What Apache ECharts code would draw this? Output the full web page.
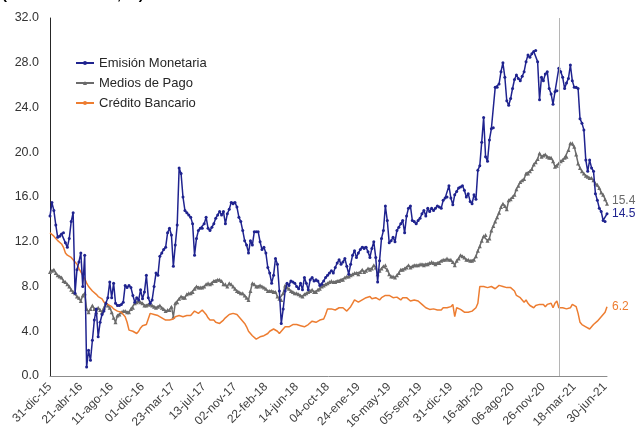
<!DOCTYPE html>
<html>
<head>
<meta charset="utf-8">
<script src="https://cdn.jsdelivr.net/npm/echarts@6/dist/echarts.min.js"></script>
<style>
html,body{margin:0;padding:0;background:#fff;}
#chart{width:638px;height:436px;}
</style>
</head>
<body>
<div id="chart"></div>
<script>
// Tick labels, one every 16 weekly observations
const tickLabels = ['31-dic-15','21-abr-16','11-ago-16','01-dic-16','23-mar-17','13-jul-17','02-nov-17','22-feb-18','14-jun-18','04-oct-18','24-ene-19','16-may-19','05-sep-19','31-dic-19','16-abr-20','06-ago-20','26-nov-20','18-mar-21','30-jun-21'];
const tickStep = 16;
const yTicks = [0, 4, 8, 12, 16, 20, 24, 28, 32];

const emisionMonetaria = [
14.3,15.5,14.8,13.5,12.4,12.5,12.7,12.8,11.9,11.5,
12.3,13.8,14.6,7.4,9.5,10.2,11.0,8.0,10.8,0.8,
2.3,1.4,3.2,5.0,6.0,3.5,4.8,5.5,5.8,6.5,
7.0,8.4,7.0,8.3,6.5,6.3,6.3,6.4,6.6,8.1,
7.9,8.1,7.9,7.2,6.6,7.0,6.8,7.7,6.9,7.5,
9.0,7.0,6.5,6.8,8.0,9.2,9.0,10.7,11.0,11.3,
11.5,12.8,13.2,12.6,9.8,11.7,13.5,18.6,18.1,16.0,
14.8,14.6,14.4,14.2,13.6,10.8,12.3,13.0,13.2,13.2,
13.6,14.2,13.2,13.0,13.3,13.6,14.1,14.4,14.7,14.4,
14.7,13.6,14.5,14.9,15.5,15.4,15.5,15.1,14.2,13.8,
13.0,12.1,11.7,11.0,12.1,11.7,12.9,12.9,12.9,12.0,
11.3,11.5,11.0,9.7,9.2,8.3,9.0,10.5,10.0,7.6,
4.7,6.0,7.6,8.3,8.1,8.5,8.4,8.3,8.0,7.8,
8.3,7.7,8.8,8.3,7.7,8.6,8.8,8.5,8.6,8.5,
8.1,8.2,8.5,8.8,9.0,9.2,9.4,9.2,9.7,10.1,
10.4,10.0,10.2,10.5,9.8,9.1,10.0,10.8,11.2,10.6,
11.0,11.3,11.5,11.4,11.5,11.1,10.6,11.4,12.0,10.6,
8.4,10.3,12.3,13.0,15.2,13.9,11.9,12.1,12.4,12.0,
13.0,13.3,13.6,13.9,12.8,14.3,15.0,15.2,13.9,13.8,
13.6,13.9,14.1,14.5,14.8,14.3,15.0,14.7,15.0,14.8,
15.0,15.2,15.1,15.0,15.7,15.9,16.0,17.0,15.9,15.3,
16.2,16.5,16.8,16.9,17.0,16.6,16.0,16.3,15.6,15.4,
16.2,15.8,18.4,18.8,20.9,23.1,19.6,19.2,21.1,22.1,
22.2,25.8,25.8,26.1,27.2,28.0,26.7,24.6,24.2,24.8,
25.7,26.5,26.9,26.6,26.4,26.8,27.2,28.1,28.7,28.5,
28.8,29.0,29.1,28.1,24.7,26.7,26.4,27.0,27.2,25.7,
25.2,24.3,25.4,25.5,27.5,27.2,26.7,25.7,26.2,26.6,
27.8,26.4,25.8,25.8,25.7,23.0,22.6,22.0,19.3,18.3,
19.3,18.6,18.3,16.3,15.7,15.0,14.7,13.9,13.8,14.5
];

const mediosDePago = [
9.3,9.4,9.5,9.2,9.0,8.9,8.8,8.5,8.4,8.2,
8.0,7.7,7.5,7.4,7.1,7.0,6.7,7.2,7.4,6.0,
5.7,6.0,6.3,6.0,5.7,6.1,5.9,5.7,6.1,6.5,
6.3,6.1,5.7,5.2,4.8,5.4,5.5,5.7,5.8,5.8,
5.7,5.7,6.0,6.1,6.5,6.6,6.7,6.6,6.5,6.3,
6.3,6.4,6.4,6.3,6.2,6.1,6.2,6.3,6.1,6.0,
5.8,5.9,5.9,6.2,5.3,6.5,6.6,6.9,7.1,7.0,
7.0,7.3,7.4,7.4,7.5,7.8,8.0,7.9,7.9,7.9,
8.0,8.2,8.3,8.2,8.3,8.5,8.5,8.6,8.6,8.5,
8.2,8.2,8.0,8.3,8.2,8.0,7.8,7.6,7.5,7.4,
7.4,7.2,7.0,6.8,7.6,8.3,8.2,8.0,8.0,8.1,
8.0,7.9,7.8,7.6,7.6,7.6,7.5,7.5,7.1,6.9,
6.8,7.4,8.1,7.9,7.8,7.6,7.5,7.4,7.4,7.3,
7.2,7.1,7.3,7.4,7.5,7.6,7.7,7.5,7.5,7.7,
7.8,8.0,8.1,8.2,8.3,8.4,8.5,8.4,8.4,8.5,
8.5,8.6,8.6,8.8,8.9,8.9,9.0,9.1,9.2,9.2,
9.1,9.3,9.5,9.3,9.4,9.6,9.5,9.6,9.9,9.7,
9.1,9.4,9.6,9.8,9.9,9.5,9.1,8.9,8.9,8.8,
9.0,9.2,9.5,9.5,9.6,9.7,9.9,9.7,9.8,9.9,
9.9,9.9,10.0,10.0,9.9,10.0,10.0,10.1,10.2,10.1,
10.0,10.1,10.1,10.3,10.4,10.4,10.5,10.4,10.4,10.2,
9.9,10.3,10.5,10.8,10.7,10.6,10.4,10.4,10.3,10.3,
10.4,10.7,11.2,11.6,12.1,12.5,12.6,12.1,12.3,13.0,
13.4,13.8,14.2,14.6,15.1,15.4,15.2,14.9,15.7,15.8,
16.0,16.2,16.7,17.0,17.35,17.5,17.6,18.1,18.1,18.3,
18.5,18.9,19.1,19.4,19.9,19.6,19.7,19.8,19.6,19.5,
19.5,19.2,18.7,18.8,19.0,19.2,19.3,19.5,19.6,20.2,
20.8,20.8,20.5,19.8,19.0,18.6,18.3,18.1,17.9,17.8,
17.7,17.7,17.5,17.2,17.1,16.8,16.4,16.2,15.8,15.4
];

const creditoBancario = [
12.8,12.7,12.5,12.3,12.1,12.0,11.8,11.5,11.0,10.8,
10.8,10.6,10.5,10.2,10.0,9.6,9.3,9.0,8.7,8.3,
8.0,7.8,7.6,7.5,7.3,7.1,7.0,6.9,6.6,6.5,
6.4,6.3,6.2,6.0,5.9,5.8,5.8,5.7,5.5,5.3,
4.8,4.1,4.1,4.0,3.9,3.8,4.0,4.3,4.5,4.6,
4.6,4.7,5.6,5.6,5.5,5.4,5.4,5.3,5.2,5.1,
5.0,5.0,5.0,5.1,5.1,5.3,5.3,5.4,5.3,5.3,
5.4,5.4,5.3,5.4,5.6,5.8,5.7,5.6,5.7,5.9,
5.7,5.5,5.2,5.0,5.1,5.0,4.8,4.8,4.7,4.8,
5.0,5.2,5.3,5.5,5.5,5.6,5.5,5.5,5.3,5.1,
4.9,4.7,4.4,4.0,3.8,3.6,3.5,3.3,3.4,3.5,
3.6,3.6,3.6,3.8,4.0,4.1,4.2,4.2,4.0,3.8,
4.0,4.2,4.4,4.4,4.4,4.5,4.6,4.6,4.6,4.6,
4.5,4.4,4.4,4.5,4.6,4.7,4.9,4.8,4.8,4.9,
5.0,5.1,5.1,5.5,6.0,6.0,6.0,5.9,5.9,6.0,
6.1,6.2,6.1,6.0,5.8,5.9,6.2,6.5,6.8,6.7,
6.6,6.5,6.8,6.9,7.0,7.0,7.1,6.9,6.8,7.0,
6.9,6.8,7.0,7.1,7.2,7.3,7.2,7.1,7.0,7.0,
7.05,6.9,6.8,7.0,7.1,7.0,6.9,6.7,6.8,6.8,
6.7,6.7,6.6,6.4,6.3,6.1,6.0,5.95,6.0,6.0,
5.95,5.9,5.8,5.9,6.1,6.0,6.1,6.0,6.2,6.4,
5.3,6.1,6.0,5.95,5.8,5.7,5.65,5.7,5.7,5.8,
5.9,6.1,6.5,8.0,8.0,8.0,7.95,7.9,8.0,8.0,
7.9,7.8,7.8,8.1,8.0,8.0,7.9,7.9,7.9,7.9,
7.8,7.6,7.2,7.1,7.0,6.9,6.6,6.8,6.5,6.3,
6.2,6.1,6.3,6.4,6.4,6.3,6.4,6.2,6.4,6.3,
6.5,6.1,6.5,6.7,6.1,6.1,6.1,6.1,6.0,6.0,
6.1,6.4,6.5,6.2,5.6,4.8,4.6,4.5,4.4,4.3,
4.2,4.4,4.6,4.7,4.9,5.0,5.3,5.4,5.7,6.2
];

const refLineIndex = 264;
const titleText = '(Variación anual, %)';

const categories = emisionMonetaria.map((_, i) => String(i));
const FONT = '"Liberation Sans", Arial, sans-serif';

const chart = echarts.init(document.getElementById('chart'), null, {renderer: 'canvas'});
chart.setOption({
  animation: false,
  backgroundColor: '#fff',
  textStyle: {fontFamily: FONT},
  graphic: [{
    type: 'text', left: 2, top: -13,
    style: {text: titleText, font: 'bold 15px ' + FONT, fill: '#000'}
  }],
  grid: {left: 50, right: 31, top: 18, bottom: 60, containLabel: false},
  legend: {
    orient: 'vertical', left: 70, top: 51, itemGap: 6,
    itemWidth: 18, itemHeight: 5,
    textStyle: {fontSize: 13, color: '#262626', fontFamily: FONT, lineHeight: 14},
    data: ['Emisión Monetaria', 'Medios de Pago', 'Crédito Bancario']
  },
  xAxis: {
    type: 'category', data: categories, boundaryGap: false,
    axisLine: {lineStyle: {color: '#8c8c8c', width: 1}},
    axisTick: {show: false},
    splitLine: {show: false},
    axisLabel: {
      interval: (i) => i % tickStep === 0,
      rotate: 45, margin: 9, fontSize: 12, color: '#404040',
      formatter: (v, i) => tickLabels[i / tickStep] || ''
    }
  },
  yAxis: {
    type: 'value', min: yTicks[0], max: yTicks[yTicks.length - 1], interval: yTicks[1] - yTicks[0],
    axisLine: {show: true, lineStyle: {color: '#262626', width: 1}},
    axisTick: {show: false},
    splitLine: {show: false},
    axisLabel: {fontSize: 12.5, color: '#333', margin: 11, formatter: (v) => v.toFixed(1)}
  },
  series: [
    {
      name: 'Medios de Pago', type: 'line', data: mediosDePago,
      symbol: 'triangle', symbolSize: 4, showSymbol: true, showAllSymbol: true,
      itemStyle: {color: '#6b6b6b'}, lineStyle: {color: '#6b6b6b', width: 1.5},
      endLabel: {show: true, formatter: (p) => p.value.toFixed(1), color: '#6b6b6b', fontSize: 12, distance: 5, offset: [0, -3]},
      markLine: {
        silent: true, symbol: 'none', label: {show: false},
        lineStyle: {color: '#b5b5b5', width: 1, type: 'solid'},
        data: [{xAxis: String(refLineIndex)}]
      },
      z: 2
    },
    {
      name: 'Crédito Bancario', type: 'line', data: creditoBancario,
      symbol: 'none', showSymbol: false,
      itemStyle: {color: '#ed7d31'}, lineStyle: {color: '#ed7d31', width: 1.5},
      endLabel: {show: true, formatter: (p) => p.value.toFixed(1), color: '#ed7d31', fontSize: 12, distance: 5},
      z: 3
    },
    {
      name: 'Emisión Monetaria', type: 'line', data: emisionMonetaria,
      symbol: 'circle', symbolSize: 3, showSymbol: true, showAllSymbol: true,
      itemStyle: {color: '#1f238f'}, lineStyle: {color: '#1f238f', width: 1.5},
      endLabel: {show: true, formatter: (p) => p.value.toFixed(1), color: '#1f238f', fontSize: 12, distance: 5},
      z: 4
    }
  ]
});
</script>
</body>
</html>
